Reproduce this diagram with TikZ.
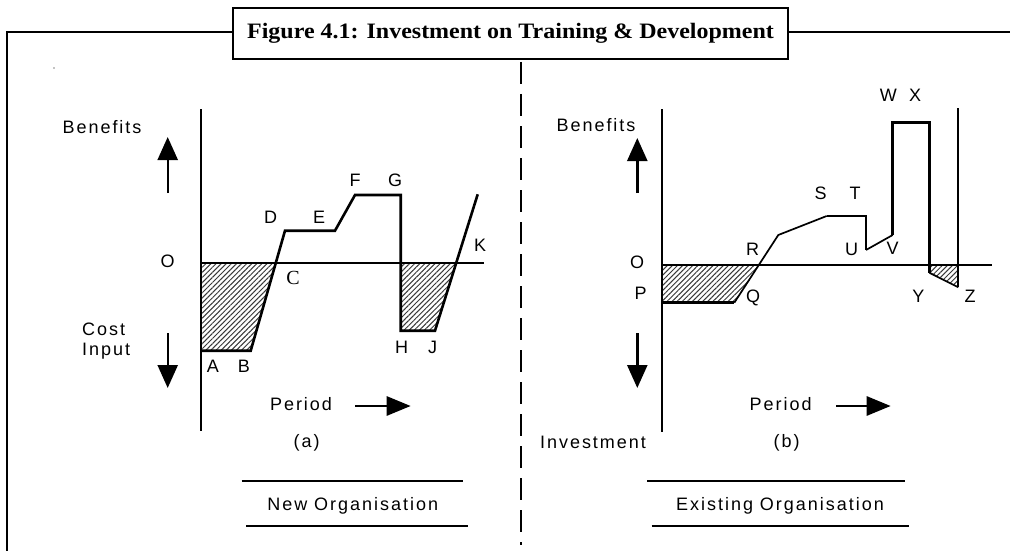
\documentclass[tikz,border=0pt]{standalone}
\usepackage{fontspec}
\setmainfont{Liberation Sans}
\newfontfamily\lab{Liberation Sans}[LetterSpace=11]
\newfontfamily\ttlfont{Liberation Serif}
\newfontfamily\cfont{Liberation Serif}
\usetikzlibrary{arrows.meta,patterns.meta}
\begin{document}
\begin{tikzpicture}[x=1pt,y=-1pt,
  lbl/.style={font=\lab\fontsize{18}{20}\selectfont, inner sep=0pt},
  axisline/.style={line width=2pt},
  curve/.style={line width=2.6pt, line join=miter},
  thincurve/.style={line width=1.7pt, line join=miter},
  hatch/.style={pattern={Lines[angle=45,distance=3.6pt,line width=1pt]}, pattern color=black!78},
  bigarrow/.style={line width=2.4pt, -{Triangle[length=23pt,width=20pt]}},
  parrow/.style={line width=2.8pt, -{Triangle[length=24pt,width=19pt]}},
  rulel/.style={line width=2.3pt},
  framel/.style={line width=2pt}
]
\fill[white] (0,0) rectangle (1010,551);
\useasboundingbox (0,0) rectangle (1010,551);

% frame and title
\node[draw, framel, fill=white, minimum width=555pt, minimum height=51pt, inner sep=0pt] (title) at (510.5,33.5)
  {\scalebox{1.09}[1]{\ttlfont\bfseries\fontsize{22}{24}\selectfont Figure 4.1: Investment on Training \& Development}};
\coordinate (fl) at (6.7,32);
\coordinate (flb) at (6.7,552);
\coordinate (fr) at (1011,32);
\draw[framel] (title.west |- fl) -- (fl) -- (flb);
\draw[framel] (title.east |- fr) -- (fr);
\fill (54,68) circle (0.7pt);

% divider
\coordinate (dtop) at (521,62);
\coordinate (dbot) at (521,545);
\draw[line width=1.6pt, dash pattern=on 22pt off 10pt] (dtop) -- (dbot);

% ---------- left panel ----------
\coordinate (LaxT) at (200.7,109);
\coordinate (LaxB) at (200.7,431);
\coordinate (LO) at (200.7,262.7);
\coordinate (LhE) at (484,262.7);
\coordinate (A) at (200.7,350.7);
\coordinate (B) at (250.7,350.7);
\coordinate (C) at (275,262.7);
\coordinate (D) at (285,230.7);
\coordinate (E) at (335,230.7);
\coordinate (F) at (355,195);
\coordinate (G) at (400.7,195);
\coordinate (Hb) at (400.7,262.7);
\coordinate (H) at (400.7,330.7);
\coordinate (J) at (435,330.7);
\coordinate (K) at (456.2,262.7);
\coordinate (Ke) at (477.7,194.3);

\fill[hatch] (LO) -- (A) -- (B) -- (C) -- cycle;
\fill[hatch] (Hb) -- (H) -- (J) -- (K) -- cycle;
\draw[axisline] (LaxT) -- (LaxB);
\draw[axisline] (LO) -- (LhE);
\draw[curve] (A) -- (B) -- (D) -- (E) -- (F) -- (G) -- (H) -- (J) -- (Ke);

\node[lbl] (benL) at (102,127) {Benefits};
\node[lbl, anchor=west] (costL) at (82,329) {Cost};
\node[lbl, anchor=west] (inputL) at (82,351) {Input};
\node[lbl] (oL) at (167.7,261) {O};
\node[lbl] (lA) at (213,366) {A};
\node[lbl] (lB) at (244,366) {B};
\node[font=\cfont\fontsize{20}{22}\selectfont, inner sep=0pt] (lC) at (293,278) {C};
\node[lbl] (lD) at (270.7,217) {D};
\node[lbl] (lE) at (319,217) {E};
\node[lbl] (lF) at (355,180) {F};
\node[lbl] (lG) at (395,180) {G};
\node[lbl] (lH) at (401.7,347) {H};
\node[lbl] (lJ) at (432.7,347) {J};
\node[lbl] (lK) at (480,245) {K};

\coordinate (uaLb) at (167.7,193);
\coordinate (uaLt) at (167.7,137);
\coordinate (daLt) at (167.7,333);
\coordinate (daLb) at (167.7,388);
\draw[bigarrow] (uaLb) -- (uaLt);
\draw[bigarrow] (daLt) -- (daLb);

\node[lbl] (perL) at (301,404) {Period};
\coordinate (paL1) at (355,406);
\coordinate (paL2) at (410.7,406);
\draw[parrow] (paL1) -- (paL2);
\node[lbl] (capa) at (306.7,443) {(a)};
\coordinate (r1a) at (241.7,481);
\coordinate (r1b) at (463.3,481);
\coordinate (r2a) at (246,525.7);
\coordinate (r2b) at (468.3,525.7);
\draw[rulel] (r1a) -- (r1b);
\draw[rulel] (r2a) -- (r2b);
\node[lbl] (newO) at (352.7,506) {New Organisation};

% ---------- right panel ----------
\coordinate (RaxT) at (661.7,109);
\coordinate (RaxB) at (661.7,431.7);
\coordinate (RO) at (661.7,265);
\coordinate (RhE) at (991.7,265);
\coordinate (RvT) at (958.3,108);
\coordinate (P) at (661.7,302.7);
\coordinate (Q) at (734.3,302.7);
\coordinate (R) at (758.8,265);
\coordinate (R2) at (778.3,235);
\coordinate (S) at (826.7,216);
\coordinate (T) at (866,216);
\coordinate (U) at (866,250);
\coordinate (V) at (892.7,235);
\coordinate (W) at (892.7,122.7);
\coordinate (X) at (929.3,122.7);
\coordinate (Yb) at (929.3,265);
\coordinate (Y) at (929.3,272.7);
\coordinate (Z) at (958.3,287.3);
\coordinate (Zb) at (958.3,265);

\fill[hatch] (RO) -- (P) -- (Q) -- (R) -- cycle;
\fill[hatch] (Yb) -- (Y) -- (Z) -- (Zb) -- cycle;
\draw[axisline] (RaxT) -- (RaxB);
\draw[axisline] (RO) -- (RhE);
\draw[axisline] (RvT) -- (Z);
\draw[curve] (P) -- (Q);
\draw[thincurve] (Q) -- (R2) -- (S);
\draw[curve] (S) -- (T) -- (U);
\draw[thincurve] (U) -- (V);
\draw[curve] (V) -- (W) -- (X) -- (Y);
\draw[thincurve] (Y) -- (Z);

\node[lbl] (benR) at (596,125) {Benefits};
\node[lbl] (oR) at (637,262) {O};
\node[lbl] (lP) at (640.7,293) {P};
\node[lbl] (lQ) at (753,298) {Q};
\node[lbl] (lR) at (752.7,249) {R};
\node[lbl] (lS) at (820.7,193) {S};
\node[lbl] (lT) at (855,193) {T};
\node[lbl] (lU) at (851.7,249) {U};
\node[lbl] (lV) at (892.7,248) {V};
\node[lbl] (lW) at (888.3,95) {W};
\node[lbl] (lX) at (915,95) {X};
\node[lbl] (lY) at (918.3,296) {Y};
\node[lbl] (lZ) at (970,296) {Z};

\coordinate (uaRb) at (637.3,193);
\coordinate (uaRt) at (637.3,138);
\coordinate (daRt) at (637.3,333);
\coordinate (daRb) at (637.3,388);
\draw[bigarrow] (uaRb) -- (uaRt);
\draw[bigarrow] (daRt) -- (daRb);

\node[lbl] (inv) at (593,442) {Investment};
\node[lbl] (perR) at (780.7,404) {Period};
\coordinate (paR1) at (836,406);
\coordinate (paR2) at (890.7,406);
\draw[parrow] (paR1) -- (paR2);
\node[lbl] (capb) at (786.7,443) {(b)};
\coordinate (s1a) at (647.3,481);
\coordinate (s1b) at (905,481);
\coordinate (s2a) at (651.7,525.7);
\coordinate (s2b) at (909.3,525.7);
\draw[rulel] (s1a) -- (s1b);
\draw[rulel] (s2a) -- (s2b);
\node[lbl] (exO) at (780,506) {Existing Organisation};
\end{tikzpicture}
\end{document}
